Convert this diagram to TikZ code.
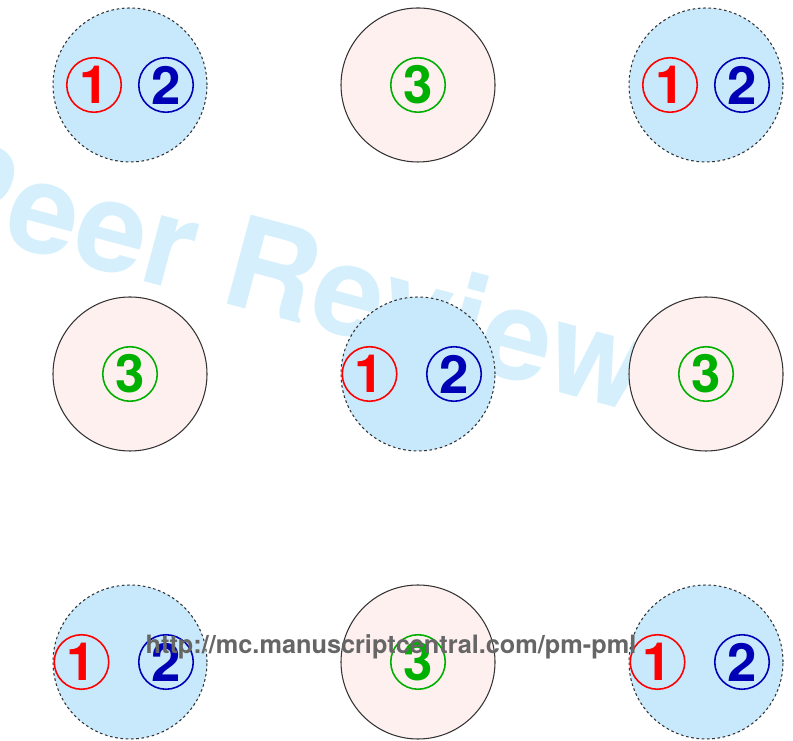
\documentclass[tikz,border=0pt]{standalone}
\usepackage{fontspec}
\usepackage{xcolor}
\newfontfamily\heros{TeX Gyre Heros}
\definecolor{CellBlue}{HTML}{C8E9FC}
\definecolor{CellPink}{HTML}{FFF0F0}
\definecolor{Rim}{HTML}{333333}
\definecolor{NumRed}{HTML}{FF0000}
\definecolor{NumBlue}{HTML}{0000B4}
\definecolor{NumGreen}{HTML}{00B000}
\definecolor{Wash}{HTML}{D5F0FC}
\definecolor{UrlGray}{HTML}{666666}

\begin{document}
\begin{tikzpicture}[every node/.style={font=\heros\bfseries},bluecell/.style={circle,minimum size=3.08cm,inner sep=0pt,fill=CellBlue,draw=Rim,line width=0.6pt,dash pattern=on 1.5pt off 1.5pt},pinkcell/.style={circle,minimum size=3.08cm,inner sep=0pt,fill=CellPink,draw=Rim,line width=0.6pt},num/.style={circle,minimum size=1.09cm,inner sep=0pt,line width=0.9pt,font=\heros\bfseries\fontsize{30}{30}\selectfont},numone/.style={num,draw=NumRed,text=NumRed},numtwo/.style={num,draw=NumBlue,text=NumBlue},numthree/.style={num,draw=NumGreen,text=NumGreen}]
\useasboundingbox (0,0) rectangle (15.86,14.82); \clip (0,0) rectangle (15.86,14.82);

\node[font=\heros\bfseries\fontsize{72}{72}\selectfont,text=Wash,rotate=-15,anchor=base west] (wash) at (-1.72,10.42) {Peer Review};

\node[bluecell] (tl) at (2.6,13.12) {}; \node[pinkcell] (tm) at (8.36,13.12) {}; \node[bluecell] (tr) at (14.12,13.12) {};
\node[pinkcell] (ml) at (2.6,7.34) {}; \node[bluecell] (mm) at (8.36,7.34) {}; \node[pinkcell] (mr) at (14.12,7.34) {};
\node[bluecell] (bl) at (2.6,1.58) {}; \node[pinkcell] (bm) at (8.36,1.58) {}; \node[bluecell] (br) at (14.12,1.58) {};

\node[numone] (tl1) at ([xshift=-0.72cm]tl) {1}; \node[numtwo] (tl2) at ([xshift=0.72cm]tl) {2};
\node[numone] (tr1) at ([xshift=-0.72cm]tr) {1}; \node[numtwo] (tr2) at ([xshift=0.72cm]tr) {2};
\node[numone] (mm1) at ([xshift=-0.97cm]mm) {1}; \node[numtwo] (mm2) at ([xshift=0.72cm]mm) {2};
\node[numone] (bl1) at ([xshift=-0.97cm]bl) {1}; \node[numtwo] (bl2) at ([xshift=0.72cm]bl) {2};
\node[numone] (br1) at ([xshift=-0.97cm]br) {1}; \node[numtwo] (br2) at ([xshift=0.72cm]br) {2};
\node[numthree] (tm3) at (tm) {3}; \node[numthree] (ml3) at (ml) {3}; \node[numthree] (mr3) at (mr) {3}; \node[numthree] (bm3) at (bm) {3};

\node[font=\heros\bfseries\fontsize{14.4}{14.4}\selectfont,text=UrlGray,anchor=base] (url) at (7.82,1.74) {http://mc.manuscriptcentral.com/pm-pml};

\end{tikzpicture}
\end{document}
